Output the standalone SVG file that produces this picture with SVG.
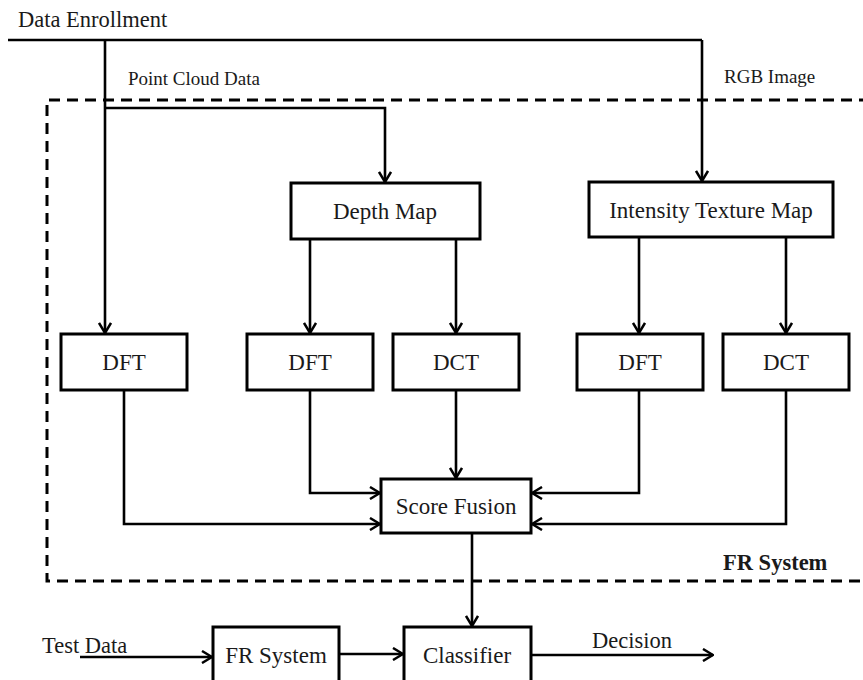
<svg xmlns="http://www.w3.org/2000/svg" width="863" height="680" viewBox="0 0 863 680">
<defs>
<marker id="ah" viewBox="0 0 12 14" refX="11" refY="7" markerWidth="12" markerHeight="14" markerUnits="userSpaceOnUse" orient="auto">
<path d="M1,1 L11,7 L1,13" fill="none" stroke="#000" stroke-width="2.5"/>
</marker>
<style>
.box{fill:#fff;stroke:#000;stroke-width:3}
.ln{fill:none;stroke:#000;stroke-width:2.6}
.arr{fill:none;stroke:#000;stroke-width:2.6;marker-end:url(#ah)}
.dash{fill:none;stroke:#000;stroke-width:3;stroke-dasharray:11 7}
text{font-family:"Liberation Serif","Times New Roman",serif;fill:#1a1a1a}
.lbl{font-size:23px;text-anchor:middle}
.sm{font-size:19px}
.md{font-size:22.5px}
</style>
</defs>
<rect width="863" height="680" fill="#fff"/>
<path class="dash" d="M870,100 H47 V581 H870"/>
<g id="connectors">
<path class="ln" d="M8,40 H702"/>
<path class="arr" d="M702,40 V181"/>
<path class="arr" d="M105,40 V333"/>
<path class="arr" d="M105,108 H385 V182"/>
<path class="arr" d="M310,239 V333"/>
<path class="arr" d="M456,239 V333"/>
<path class="arr" d="M639,237 V333"/>
<path class="arr" d="M786,237 V333"/>
<path class="arr" d="M124,390 V524 H380"/>
<path class="arr" d="M310,390 V493 H380"/>
<path class="arr" d="M456,390 V478"/>
<path class="arr" d="M639,390 V493 H532"/>
<path class="arr" d="M786,390 V524 H532"/>
<path class="arr" d="M472,533 V626"/>
<path class="arr" d="M80,657 H212"/>
<path class="arr" d="M339,654 H403"/>
<path class="arr" d="M531,655 H713"/>
</g>
<g id="labels">
<text class="md" x="18" y="27">Data Enrollment</text>
<text class="sm" x="128" y="85">Point Cloud Data</text>
<text class="sm" x="724" y="83">RGB Image</text>
<text class="md" x="723" y="570" font-weight="bold">FR System</text>
<text class="md" x="42" y="653">Test Data</text>
<text class="md" x="592" y="648">Decision</text>
</g>
<g id="depth-map"><rect class="box" x="291" y="183" width="189" height="56"/><text class="lbl" x="385" y="219">Depth Map</text></g>
<g id="intensity-texture-map"><rect class="box" x="589" y="182" width="244" height="55"/><text class="lbl" x="711" y="218">Intensity Texture Map</text></g>
<g id="dft1"><rect class="box" x="61" y="334" width="126" height="56"/><text class="lbl" x="124" y="370">DFT</text></g>
<g id="dft2"><rect class="box" x="247" y="334" width="126" height="56"/><text class="lbl" x="310" y="370">DFT</text></g>
<g id="dct1"><rect class="box" x="393" y="334" width="126" height="56"/><text class="lbl" x="456" y="370">DCT</text></g>
<g id="dft3"><rect class="box" x="577" y="334" width="126" height="56"/><text class="lbl" x="640" y="370">DFT</text></g>
<g id="dct2"><rect class="box" x="723" y="334" width="126" height="56"/><text class="lbl" x="786" y="370">DCT</text></g>
<g id="score-fusion"><rect class="box" x="381" y="479" width="150" height="54"/><text class="lbl" x="456" y="514">Score Fusion</text></g>
<g id="fr-system"><rect class="box" x="213" y="627" width="126" height="56"/><text class="lbl" x="276" y="663">FR System</text></g>
<g id="classifier"><rect class="box" x="404" y="627" width="127" height="56"/><text class="lbl" x="467" y="663">Classifier</text></g>
</svg>
